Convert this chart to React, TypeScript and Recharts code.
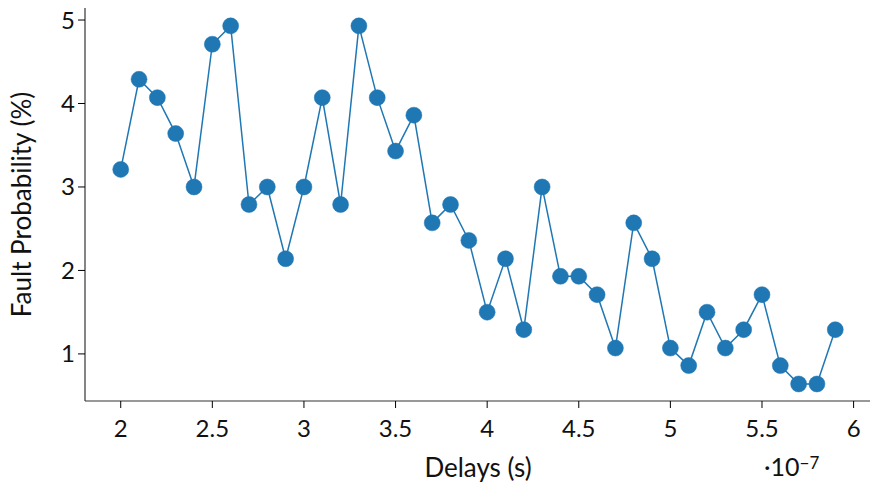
import React from 'react';
import { LineChart, Line, XAxis, YAxis } from 'recharts';

// delays in units of 1e-7 s
const delays = [
  2.0, 2.1, 2.2, 2.3, 2.4, 2.5, 2.6, 2.7, 2.8, 2.9,
  3.0, 3.1, 3.2, 3.3, 3.4, 3.5, 3.6, 3.7, 3.8, 3.9,
  4.0, 4.1, 4.2, 4.3, 4.4, 4.5, 4.6, 4.7, 4.8, 4.9,
  5.0, 5.1, 5.2, 5.3, 5.4, 5.5, 5.6, 5.7, 5.8, 5.9,
];
const faultProbability = [
  3.21, 4.29, 4.07, 3.64, 3.0, 4.71, 4.93, 2.79, 3.0, 2.14,
  3.0, 4.07, 2.79, 4.93, 4.07, 3.43, 3.86, 2.57, 2.79, 2.36,
  1.5, 2.14, 1.29, 3.0, 1.93, 1.93, 1.71, 1.07, 2.57, 2.14,
  1.07, 0.86, 1.5, 1.07, 1.29, 1.71, 0.86, 0.64, 0.64, 1.29,
];
const xTicks = [2, 2.5, 3, 3.5, 4, 4.5, 5, 5.5, 6];
const yTicks = [1, 2, 3, 4, 5];

const data = delays.map((d, i) => ({ delay: d, prob: faultProbability[i] }));

const FONT = 'Lato, "DejaVu Sans", sans-serif';
const AXIS = '#333';
const FS = 24;
const LABEL_FS = 26;

export default function App() {
  return (
    <div style={{ position: 'absolute', left: 0, top: 0, width: 870, height: 483, overflow: 'hidden', background: '#fff', fontFamily: FONT }}>
      <LineChart width={872} height={483} data={data} margin={{ top: 8, right: 1, bottom: 0, left: 0 }}>
        <XAxis
          xAxisId="top"
          orientation="top"
          dataKey="delay"
          type="number"
          domain={[1.805, 6.095]}
          height={0}
          tick={false}
          tickLine={false}
          axisLine={{ stroke: AXIS, strokeWidth: 1.2 }}
        />
        <XAxis
          dataKey="delay"
          type="number"
          domain={[1.805, 6.095]}
          ticks={xTicks}
          height={82}
          tickSize={7}
          tickMargin={12}
          axisLine={{ stroke: AXIS, strokeWidth: 1.2 }}
          tickLine={{ stroke: '#000' }}
          tick={{ fill: '#111', fontSize: FS, fontFamily: FONT }}
          label={{ value: 'Delays (s)', position: 'insideBottom', offset: 6, fill: '#111', fontSize: LABEL_FS, fontFamily: FONT }}
        />
        <YAxis
          type="number"
          domain={[0.436, 5.144]}
          ticks={yTicks}
          width={85}
          tickSize={7}
          tickMargin={3}
          axisLine={{ stroke: AXIS, strokeWidth: 1.2 }}
          tickLine={{ stroke: '#000' }}
          tick={{ fill: '#111', fontSize: FS, fontFamily: FONT }}
          label={{ value: 'Fault Probability (%)', angle: -90, position: 'insideLeft', offset: 22, fill: '#111', fontSize: LABEL_FS, fontFamily: FONT, style: { textAnchor: 'middle' } }}
        />
        <Line
          xAxisId={0}
          dataKey="prob"
          type="linear"
          stroke="#1f77b4"
          strokeWidth={1.5}
          dot={{ r: 8, fill: '#1f77b4', stroke: '#1f77b4', strokeWidth: 0.5 }}
          activeDot={false}
          isAnimationActive={false}
        />
      </LineChart>
      {/* offset multiplier of the x axis, as matplotlib draws it */}
      <div style={{ position: 'absolute', left: 764, top: 456, fontSize: 25, color: '#111', lineHeight: 0.8, whiteSpace: 'nowrap' }}>
        ·10<sup style={{ fontSize: 17, lineHeight: 0.8, verticalAlign: 'top', position: 'relative', top: 0 }}>−7</sup>
      </div>
    </div>
  );
}
